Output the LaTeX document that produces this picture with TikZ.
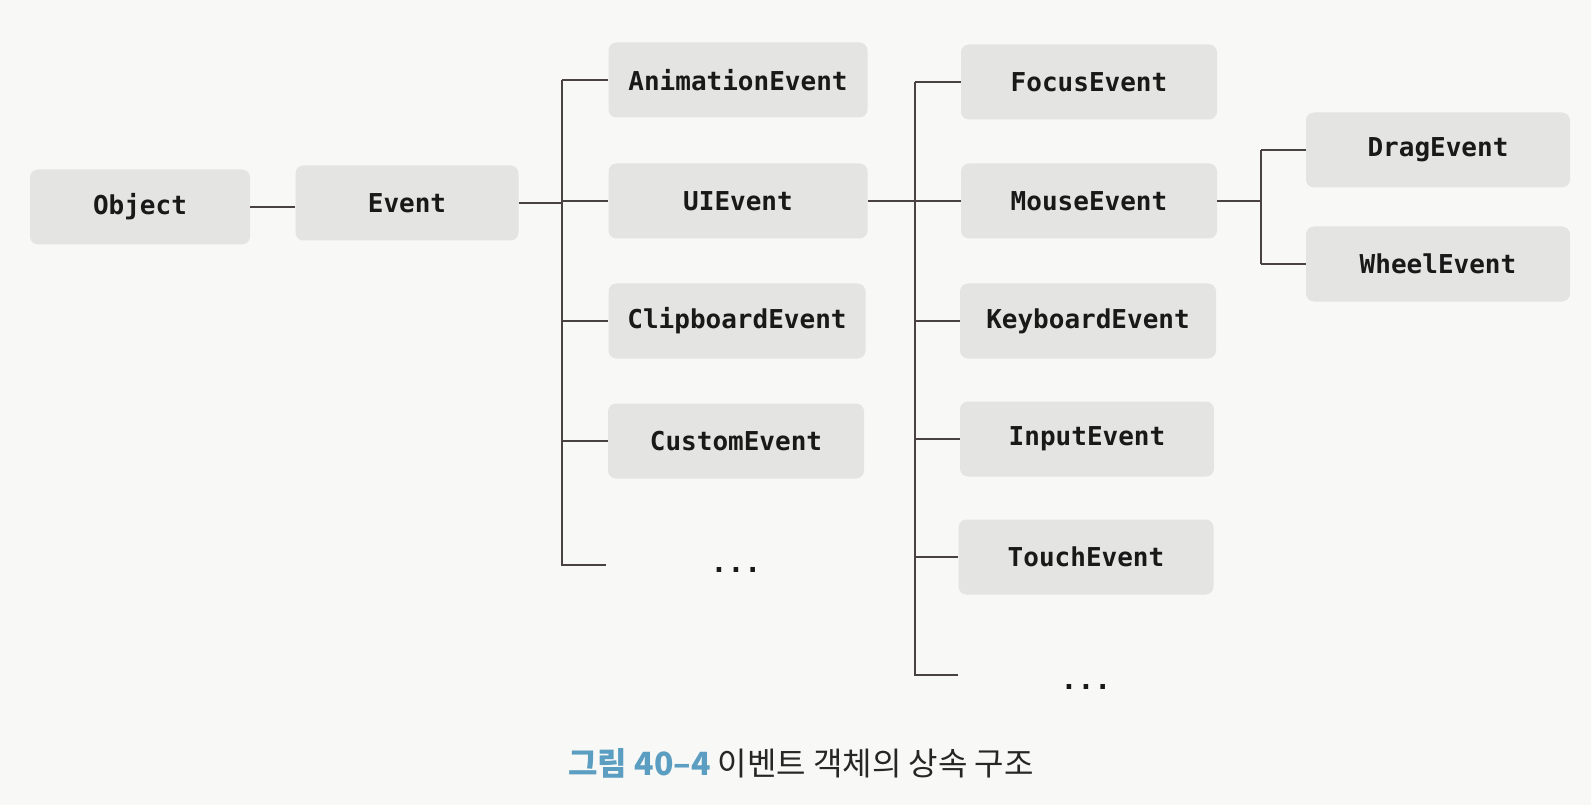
\documentclass[tikz,border=0pt]{standalone}
\usepackage{fontspec}
\setmonofont{DejaVu Sans Mono}
\newfontfamily\cjk{Noto Sans CJK KR}
\definecolor{boxfill}{HTML}{E4E4E2}
\definecolor{linecol}{HTML}{4A4242}
\definecolor{capblue}{HTML}{5C9EC2}
\definecolor{bgcol}{HTML}{F8F8F6}
\tikzset{
  evbox/.style={fill=boxfill, rounded corners=8pt, minimum height=75pt, inner sep=0pt,
    font=\fontsize{26}{30}\selectfont\ttfamily\bfseries, text=black!90},
  conn/.style={draw=linecol, line width=1.5pt},
  dotsnode/.style={font=\fontsize{28}{30}\selectfont\ttfamily\bfseries, inner sep=0pt, text=black!90}
}
\begin{document}
\begin{tikzpicture}[x=1pt,y=-1pt]
\fill[bgcol] (0,0) rectangle (1591,805);
\useasboundingbox (0,0) rectangle (1591,805);
% level 0/1
\node[evbox, minimum width=220pt] (obj) at (140,207) {Object};
\node[evbox, minimum width=223pt] (ev) at (407,203) {Event};
% level 2
\node[evbox, minimum width=259pt] (anim) at (738,80) {AnimationEvent};
\node[evbox, minimum width=259pt] (ui) at (738,201) {UIEvent};
\node[evbox, minimum width=257pt] (clip) at (737,321) {ClipboardEvent};
\node[evbox, minimum width=256pt] (cust) at (736,441) {CustomEvent};
\node[dotsnode] (dots1) at (736,570) {...};
% level 3
\node[evbox, minimum width=256pt] (focus) at (1089,82) {FocusEvent};
\node[evbox, minimum width=256pt] (mouse) at (1089,201) {MouseEvent};
\node[evbox, minimum width=256pt] (key) at (1088,321) {KeyboardEvent};
\node[evbox, minimum width=254pt] (input) at (1087,439) {InputEvent};
\node[evbox, minimum width=255pt] (touch) at (1086,557) {TouchEvent};
\node[dotsnode] (dots2) at (1086,687) {...};
% level 4
\node[evbox, minimum width=264pt] (drag) at (1438,150) {DragEvent};
\node[evbox, minimum width=264pt] (wheel) at (1438,264) {WheelEvent};
% trunk coordinates
\coordinate (t1top) at (562,80);
\coordinate (t1bot) at (562,565);
\coordinate (b1end) at (606,565);
\coordinate (t2top) at (915,82);
\coordinate (t2bot) at (915,675);
\coordinate (b2end) at (958,675);
\coordinate (t3top) at (1261,150);
\coordinate (t3bot) at (1261,264);
% connectors
\draw[conn] (obj.east) -- (obj.east -| ev.west);
\draw[conn] (ev.east) -- (ev.east -| t1top);
\draw[conn] (t1top) -- (t1bot) -- (b1end);
\draw[conn] (t1top) -- (anim.west);
\draw[conn] (ui.west -| t1top) -- (ui.west);
\draw[conn] (clip.west -| t1top) -- (clip.west);
\draw[conn] (cust.west -| t1top) -- (cust.west);
\draw[conn] (ui.east) -- (ui.east -| t2top);
\draw[conn] (t2top) -- (t2bot) -- (b2end);
\draw[conn] (t2top) -- (focus.west);
\draw[conn] (mouse.west -| t2top) -- (mouse.west);
\draw[conn] (key.west -| t2top) -- (key.west);
\draw[conn] (input.west -| t2top) -- (input.west);
\draw[conn] (touch.west -| t2top) -- (touch.west);
\draw[conn] (mouse.east) -- (mouse.east -| t3top);
\draw[conn] (t3top) -- (t3bot);
\draw[conn] (t3top) -- (drag.west);
\draw[conn] (t3bot) -- (wheel.west);
% caption
\node[inner sep=0pt, font=\fontsize{32}{36}\selectfont\cjk] (cap) at (801,763)
  {\textcolor{capblue}{\bfseries 그림 40–4}\ \textcolor{black!85}{이벤트 객체의 상속 구조}};
\end{tikzpicture}
\end{document}
